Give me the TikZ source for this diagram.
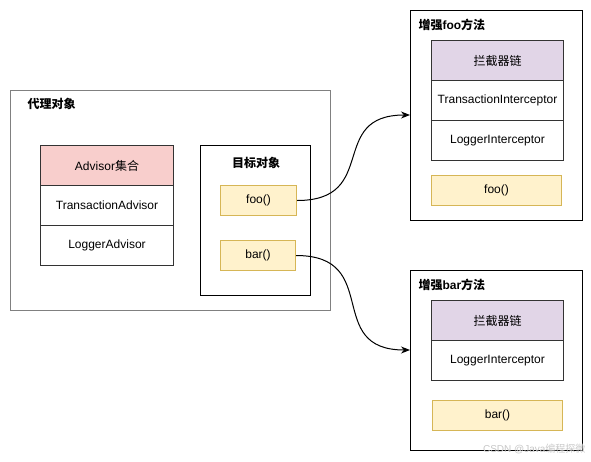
\documentclass[tikz,border=0pt]{standalone}
\usepackage{fontspec}
\setmainfont{Liberation Sans}
\newfontfamily\cjk{Noto Sans CJK SC}
\usetikzlibrary{arrows.meta}
\definecolor{redfill}{HTML}{F8CECC}
\definecolor{purplefill}{HTML}{E1D5E7}
\definecolor{yellowfill}{HTML}{FFF2CC}
\definecolor{yellowline}{HTML}{D6B656}
\definecolor{greyline}{HTML}{808080}
\begin{document}
\begin{tikzpicture}[x=1pt,y=-1pt,font=\fontsize{12}{14}\selectfont,
    frame/.style={draw,rectangle,anchor=north west,inner sep=0pt,line width=1pt},
    row/.style={frame,draw=black!80,minimum width=133pt,minimum height=40pt},
    wrow/.style={frame,draw=black!80,minimum width=132pt,minimum height=40pt},
    method/.style={frame,fill=yellowfill,draw=yellowline,minimum height=30pt},
    title/.style={anchor=west,font=\fontsize{12}{14}\selectfont\bfseries},
    arr/.style={-{Stealth[length=9pt,width=7pt]},line width=1pt}]
    \fill[white] (0,0) rectangle (591,461);
    \useasboundingbox (0,0) rectangle (591,461);

    % proxy object
    \node[frame,draw=greyline,minimum width=320pt,minimum height=220pt] (proxy) at (10,90) {};
    \node[title] (proxyLbl) at (24,104) {\cjk 代理对象};
    \node[row,fill=redfill] (advHead) at (40,145) {Advisor{\cjk 集合}};
    \node[row] (advTx) at (40,185) {TransactionAdvisor};
    \node[row] (advLog) at (40,225) {LoggerAdvisor};

    % target object
    \node[frame,minimum width=110pt,minimum height=150pt] (target) at (200,145) {};
    \node[title,anchor=center] (targetLbl) at (256,163) {\cjk 目标对象};
    \node[method,minimum width=76pt] (foo) at (220,185) {foo()};
    \node[method,minimum width=75pt] (bar) at (220,240) {bar()};

    % enhanced foo
    \node[frame,minimum width=172pt,minimum height=210pt] (fooBox) at (410,10) {};
    \node[title] (fooLbl) at (415,25) {{\cjk 增强}foo{\cjk 方法}};
    \node[wrow,fill=purplefill] (fooHead) at (431,40) {\cjk 拦截器链};
    \node[wrow] (fooTx) at (431,80) {TransactionInterceptor};
    \node[wrow] (fooLog) at (431,120) {LoggerInterceptor};
    \node[method,minimum width=130pt] (fooCall) at (431,175) {foo()};

    % enhanced bar
    \node[frame,minimum width=172pt,minimum height=180pt] (barBox) at (410,270) {};
    \node[title] (barLbl) at (415,285) {{\cjk 增强}bar{\cjk 方法}};
    \node[wrow,fill=purplefill] (barHead) at (431,300) {\cjk 拦截器链};
    \node[wrow] (barLog) at (431,340) {LoggerInterceptor};
    \node[method,minimum width=130pt] (barCall) at (432,400) {bar()};

    \coordinate (fooIn) at (410,115);
    \coordinate (barIn) at (410,350);
    \draw[arr] (foo.east) to[out=0,in=180,looseness=1.5] (fooIn);
    \draw[arr] (bar.east) to[out=0,in=180,looseness=1.5] (barIn);

    \node[anchor=east,text=black!22,font=\fontsize{10}{12}\selectfont] (mark) at (589,449) {CSDN @Java{\cjk 编程探微}};
\end{tikzpicture}
\end{document}
